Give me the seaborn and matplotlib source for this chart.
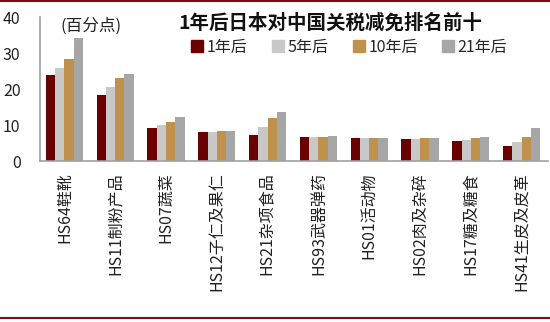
import matplotlib
matplotlib.use("Agg")
import matplotlib.pyplot as plt
import seaborn as sns
import pandas as pd
from matplotlib.lines import Line2D

categories = ["HS64鞋靴", "HS11制粉产品", "HS07蔬菜", "HS12子仁及果仁", "HS21杂项食品",
              "HS93武器弹药", "HS01活动物", "HS02肉及杂碎", "HS17糖及糖食", "HS41生皮及皮革"]
series = ["1年后", "5年后", "10年后", "21年后"]
v1 = [23.8, 18.3, 9.1, 8.05, 7.2, 6.6, 6.3, 6.1, 5.5, 4.25]
v5 = [25.8, 20.5, 9.9, 8.05, 9.35, 6.6, 6.3, 6.1, 5.9, 5.3]
v10 = [28.4, 23.1, 10.9, 8.2, 11.85, 6.75, 6.3, 6.3, 6.4, 6.7]
v21 = [34.1, 24.1, 12.1, 8.3, 13.7, 6.85, 6.3, 6.3, 6.6, 9.1]
colors = ["#6B0000", "#C8C8C8", "#C0904D", "#A6A6A6"]
yticks = [0, 10, 20, 30, 40]

sns.set_theme(style="white")
plt.rcParams["font.family"] = ["Noto Sans CJK SC", "DejaVu Sans"]

rows = []
for s, vals in zip(series, [v1, v5, v10, v21]):
    for c, v in zip(categories, vals):
        rows.append({"cat": c, "series": s, "value": v})
df = pd.DataFrame(rows)

fig = plt.figure(figsize=(5.5, 3.22), dpi=100)
ax = fig.add_axes([40/550, 1-161/322, 508/550, (161-17)/322])
sns.barplot(data=df, x="cat", y="value", hue="series", hue_order=series,
            palette=colors, width=0.73, gap=0, saturation=1, ax=ax,
            edgecolor="none", linewidth=0, legend=False)
ax.set_xlim(-0.48, 9.52)
ax.set_ylim(0, 40)
ax.set_yticks(yticks)
ax.set_yticklabels([str(t) for t in yticks], fontsize=11.5, color="#222222")
ax.set_xlabel("")
ax.set_ylabel("")
ax.set_xticks(range(len(categories)))
ax.set_xticklabels(categories, rotation=90, va="top", ha="center", fontsize=11.5, color="#222222")
ax.tick_params(axis="x", length=0, pad=8)
ax.tick_params(axis="y", length=0, pad=14)
for sp in ["top", "right"]:
    ax.spines[sp].set_visible(False)
for sp in ["left", "bottom"]:
    ax.spines[sp].set_color("#A0A0A0")
    ax.spines[sp].set_linewidth(1.2)

fig.text(330/550, 1-23/322, "1年后日本对中国关税减免排名前十", ha="center", va="center",
         fontsize=14, fontweight="bold", color="#111111")
fig.text(91/550, 1-26/322, "(百分点)", ha="center", va="center", fontsize=12, color="#222222")

handles = [Line2D([0], [0], marker="s", linestyle="none", markersize=8,
                  markerfacecolor=c, markeredgecolor=c) for c in colors]
fig.legend(handles, series, loc="center", bbox_to_anchor=(349/550, 1-47/322), ncol=4,
           frameon=False, fontsize=11.5, handletextpad=0.2, columnspacing=1.5,
           handlelength=0.8, borderpad=0)

fig.add_artist(Line2D([0, 1], [1-1/322, 1-1/322], color="#7A1010", linewidth=1.5))
fig.add_artist(Line2D([0, 1], [1-318/322, 1-318/322], color="#7A1010", linewidth=1.5))

fig.savefig("out.png", dpi=100)
